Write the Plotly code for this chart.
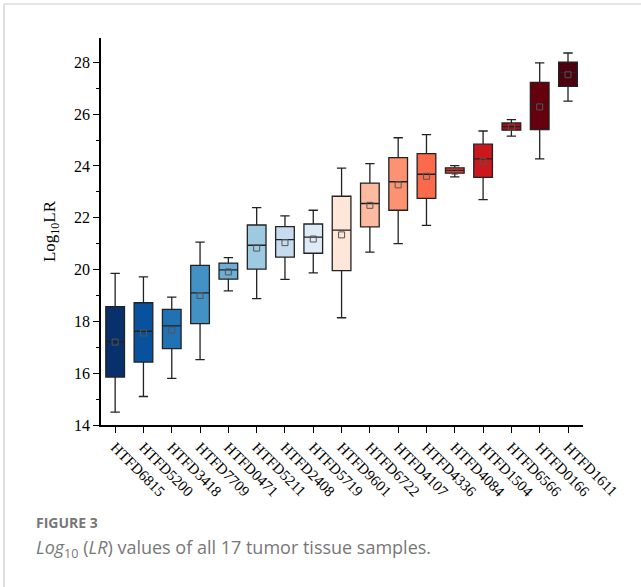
import plotly.graph_objects as go

samples = ["HTFD6815", "HTFD5200", "HTFD3418", "HTFD7709", "HTFD0471", "HTFD5211",
           "HTFD2408", "HTFD5719", "HTFD9601", "HTFD6722", "HTFD4107", "HTFD4336",
           "HTFD4084", "HTFD1504", "HTFD6566", "HTFD0166", "HTFD1611"]
lower = [14.50, 15.10, 15.80, 16.52, 19.18, 18.88, 19.62, 19.87, 18.14, 20.67,
         21.00, 21.71, 23.58, 22.70, 25.15, 24.27, 26.50]
q1 = [15.85, 16.43, 16.95, 17.91, 19.63, 20.02, 20.48, 20.63, 19.96, 21.65,
      22.29, 22.75, 23.72, 23.56, 25.38, 25.40, 27.07]
median = [17.22, 17.62, 17.83, 19.10, 19.99, 20.94, 21.16, 21.25, 21.52, 22.55,
          23.39, 23.68, 23.83, 24.27, 25.52, 26.38, 27.60]
q3 = [18.57, 18.72, 18.46, 20.16, 20.25, 21.72, 21.66, 21.76, 22.83, 23.34,
      24.32, 24.48, 23.93, 24.84, 25.66, 27.23, 28.01]
upper = [19.85, 19.72, 18.94, 21.06, 20.46, 22.39, 22.07, 22.29, 23.92, 24.09,
         25.09, 25.21, 24.01, 25.35, 25.79, 27.98, 28.36]
mean = [17.20, 17.55, 17.66, 19.00, 19.91, 20.83, 21.04, 21.18, 21.34, 22.48,
        23.27, 23.60, 23.80, 24.18, 25.50, 26.28, 27.52]
colors = ["#08306b", "#08519c", "#2171b5", "#4292c6", "#6baed6", "#9ecae1",
          "#c6dbef", "#deebf7", "#fee6d8", "#fcbba1", "#fc9272", "#fb6a4a",
          "#ef3b2c", "#cb181d", "#a50f15", "#67000d", "#4d0010"]
yticks = [14, 16, 18, 20, 22, 24, 26, 28]
yticklabels = ["14", "16", "18", "20", "22", "24", "26", "28"]

fig = go.Figure()
for i, s in enumerate(samples):
    fig.add_trace(go.Box(
        x=[s], q1=[q1[i]], median=[median[i]], q3=[q3[i]],
        lowerfence=[lower[i]], upperfence=[upper[i]],
        fillcolor=colors[i], line=dict(color="#222222", width=1.3),
        whiskerwidth=0.5, width=0.66, showlegend=False, hoverinfo="skip",
    ))
fig.add_trace(go.Scatter(
    x=samples, y=mean, mode="markers", showlegend=False, hoverinfo="skip",
    marker=dict(symbol="square-open", size=6, color="#555555", line=dict(width=1)),
))

W, H = 641, 587
L, R, T, B = 101, 58, 38, 162
pw, ph = W - L - R, H - T - B

def px_x(px):
    return (px - L) / pw

def px_y(py):
    return (H - B - py) / ph

serif = "Liberation Serif"
fig.update_layout(
    width=W, height=H, autosize=False,
    font=dict(family=serif, color="black"),
    margin=dict(l=L, r=R, t=T, b=B, pad=0),
    paper_bgcolor="white", plot_bgcolor="white",
    boxmode="overlay",
    xaxis=dict(
        type="category", categoryorder="array", categoryarray=samples,
        range=[-0.5, 16.53], showline=True, linecolor="black", linewidth=1.5,
        ticks="outside", ticklen=6, tickwidth=1.3, tickcolor="black",
        tickangle=45, tickfont=dict(family=serif, size=15, color="black"),
        showgrid=False, zeroline=False,
    ),
    yaxis=dict(
        range=[14, 28.94], tickmode="array", tickvals=yticks, ticktext=yticklabels,
        showline=True, linecolor="black",
        linewidth=1.5, ticks="outside", ticklen=6, tickwidth=1.3, tickcolor="black",
        tickfont=dict(family=serif, size=16, color="black"),
        minor=dict(ticks="outside", dtick=1, ticklen=3, tickwidth=1.3, tickcolor="black"),
        showgrid=False, zeroline=False,
        title=dict(text="Log<sub>10</sub>LR", font=dict(family=serif, size=17, color="black"),
                   standoff=14),
    ),
    shapes=[
        dict(type="line", xref="paper", yref="paper", x0=px_x(4), x1=px_x(W + 5),
             y0=px_y(4), y1=px_y(4), line=dict(color="#cccccc", width=1.2)),
        dict(type="line", xref="paper", yref="paper", x0=px_x(4), x1=px_x(4),
             y0=px_y(4), y1=px_y(H + 5), line=dict(color="#cccccc", width=1.2)),
    ],
    annotations=[
        dict(text="<b>FIGURE 3</b>", xref="paper", yref="paper", x=px_x(34),
             y=px_y(522), xanchor="left", yanchor="middle", showarrow=False,
             font=dict(family="Open Sans", size=14, color="#777777")),
        dict(text="<i>Log</i><sub>10</sub> (<i>LR</i>) values of all 17 tumor tissue samples.",
             xref="paper", yref="paper", x=px_x(34), y=px_y(548), xanchor="left",
             yanchor="middle", showarrow=False,
             font=dict(family="Open Sans", size=18, color="#777777")),
    ],
)

fig.write_html("out.html")
